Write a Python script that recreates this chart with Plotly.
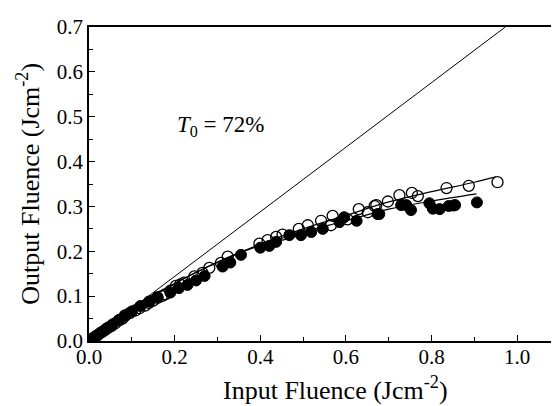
import plotly.graph_objects as go

# ---- data ----
T0 = 0.72
linear_x = [0.0, 0.7 / T0]
linear_y = [0.0, 0.7]

open_x = [0.005, 0.012, 0.02, 0.03, 0.037, 0.045, 0.052, 0.061, 0.07, 0.078, 0.084, 0.095,
          0.108, 0.118, 0.131, 0.14, 0.150, 0.160, 0.170, 0.178, 0.19, 0.203, 0.213, 0.222,
          0.246, 0.265, 0.281, 0.308, 0.324, 0.398, 0.417, 0.437, 0.452, 0.490, 0.511, 0.542,
          0.565, 0.569, 0.604, 0.630, 0.651, 0.667, 0.671, 0.698, 0.725, 0.754, 0.768, 0.835,
          0.887, 0.954]
open_y = [0.003, 0.008, 0.013, 0.02, 0.024, 0.03, 0.033, 0.039, 0.046, 0.05, 0.057, 0.062,
          0.068, 0.073, 0.079, 0.085, 0.090, 0.096, 0.100, 0.104, 0.112, 0.123, 0.126, 0.130,
          0.144, 0.152, 0.163, 0.174, 0.188, 0.217, 0.225, 0.232, 0.237, 0.250, 0.258, 0.268,
          0.258, 0.279, 0.271, 0.294, 0.287, 0.301, 0.303, 0.311, 0.325, 0.330, 0.323, 0.341,
          0.346, 0.354]

filled_x = [0.005, 0.015, 0.025, 0.04, 0.055, 0.07, 0.085, 0.10, 0.12, 0.14, 0.16, 0.19,
            0.21, 0.23, 0.25, 0.27, 0.312, 0.33, 0.355, 0.40, 0.421, 0.437, 0.468, 0.495,
            0.519, 0.546, 0.585, 0.596, 0.625, 0.674, 0.678, 0.729, 0.741, 0.752, 0.795,
            0.803, 0.819, 0.840, 0.851, 0.855, 0.906]
filled_y = [0.003, 0.01, 0.017, 0.027, 0.037, 0.047, 0.056, 0.066, 0.078, 0.088, 0.098, 0.108,
            0.118, 0.125, 0.135, 0.145, 0.166, 0.175, 0.192, 0.208, 0.212, 0.221, 0.236, 0.236,
            0.243, 0.250, 0.265, 0.276, 0.268, 0.283, 0.283, 0.303, 0.303, 0.292, 0.307,
            0.295, 0.294, 0.301, 0.302, 0.303, 0.309]

fit_open_x = [0.0, 0.05, 0.1, 0.2, 0.3, 0.4, 0.5, 0.6, 0.7, 0.8, 0.9, 0.95]
fit_open_y = [0.0, 0.036, 0.070, 0.128, 0.176, 0.216, 0.250, 0.280, 0.310, 0.333, 0.354, 0.366]
fit_filled_x = [0.0, 0.05, 0.1, 0.2, 0.3, 0.4, 0.5, 0.6, 0.7, 0.8, 0.905]
fit_filled_y = [0.0, 0.036, 0.070, 0.128, 0.175, 0.213, 0.243, 0.268, 0.294, 0.312, 0.328]

x_ticks = [0.0, 0.2, 0.4, 0.6, 0.8, 1.0]
y_ticks = [0.0, 0.1, 0.2, 0.3, 0.4, 0.5, 0.6, 0.7]

FONT = "Liberation Serif"

fig = go.Figure()
fig.add_trace(go.Scatter(x=linear_x, y=linear_y, mode="lines",
                         line=dict(color="black", width=1), showlegend=False))
fig.add_trace(go.Scatter(x=fit_filled_x, y=fit_filled_y, mode="lines", line_shape="spline",
                         line=dict(color="black", width=1.2), showlegend=False))
fig.add_trace(go.Scatter(x=fit_open_x, y=fit_open_y, mode="lines", line_shape="spline",
                         line=dict(color="black", width=1.2), showlegend=False))
fig.add_trace(go.Scatter(x=filled_x, y=filled_y, mode="markers",
                         marker=dict(symbol="circle", size=11, color="black",
                                     line=dict(color="black", width=1)),
                         showlegend=False))
fig.add_trace(go.Scatter(x=open_x, y=open_y, mode="markers",
                         marker=dict(symbol="circle-open", size=11, color="black",
                                     line=dict(color="black", width=1.3)),
                         showlegend=False))

fig.update_layout(
    width=559, height=406,
    margin=dict(l=81, r=7, t=13, b=73),
    paper_bgcolor="white", plot_bgcolor="white",
    font=dict(family=FONT, color="black", size=21),
    xaxis=dict(range=[0, 1.1], tickvals=x_ticks, ticktext=[f"{v:.1f}" for v in x_ticks],
               ticks="inside", ticklen=6, tickwidth=1.2, tickcolor="black",
               minor=dict(dtick=0.1, ticks="inside", ticklen=4, tickwidth=1.2, tickcolor="black"),
               showline=True, linecolor="black", linewidth=1.5, mirror=True,
               ticklabelstandoff=-4,
               showgrid=False, zeroline=False, tickfont=dict(size=21, family=FONT)),
    yaxis=dict(range=[0, 0.7], tickvals=y_ticks, ticktext=[f"{v:.1f}" for v in y_ticks],
               ticks="inside", ticklen=6, tickwidth=1.2, tickcolor="black",
               minor=dict(dtick=0.05, ticks="inside", ticklen=4, tickwidth=1.2, tickcolor="black"),
               showline=True, linecolor="black", linewidth=1.5,
               showgrid=False, zeroline=False, tickfont=dict(size=21, family=FONT)),
    annotations=[
        dict(text="Input Fluence (Jcm<sup>-2</sup>)", xref="paper", yref="paper",
             x=0.524, y=-0.15, xanchor="center", yanchor="middle", showarrow=False,
             font=dict(size=26, family=FONT)),
        dict(text="Output Fluence (Jcm<sup>-2</sup>)", xref="paper", yref="paper",
             x=-0.13, y=0.5, xanchor="center", yanchor="middle", textangle=-90,
             showarrow=False, font=dict(size=26, family=FONT)),
        dict(text="<i>T</i><sub>0</sub> = 72%", xref="x", yref="y",
             x=0.2, y=0.48, xanchor="left", yanchor="middle", showarrow=False,
             font=dict(size=23, family=FONT)),
    ],
)

fig.write_html("out.html")
